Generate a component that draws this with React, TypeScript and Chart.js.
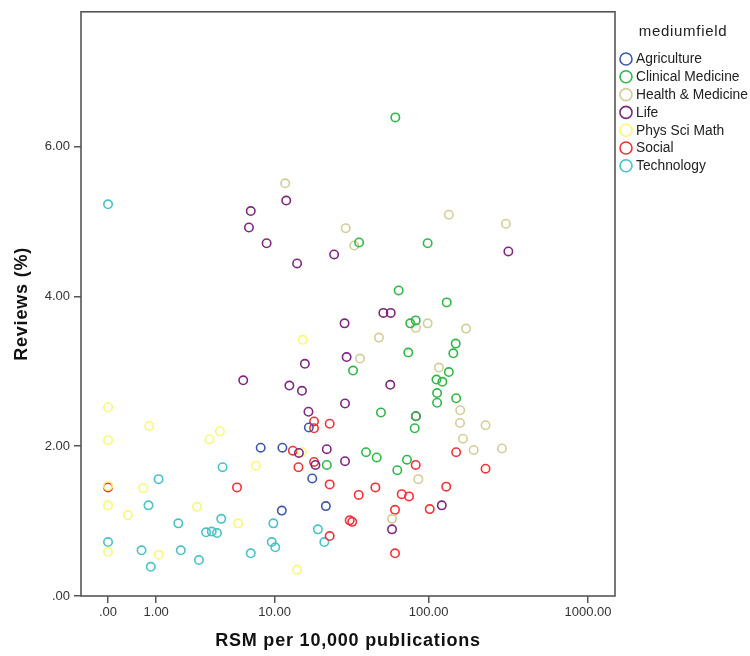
import React, { useEffect, useRef } from "react";
import { Chart, registerables } from "chart.js";
Chart.register(...registerables);

const categories = ["Agriculture", "Clinical Medicine", "Health & Medicine", "Life", "Phys Sci Math", "Social", "Technology"];
const colors = ["#3e58ac", "#2eb848", "#d3ce97", "#7c287d", "#fbf873", "#ef3338", "#48c2c5"];
const legendTitle = "mediumfield";
const xTitle = "RSM per 10,000 publications";
const yTitle = "Reviews (%)";
const xTickValues = [0, 1, 10, 100, 1000];
const xTickLabels = [".00", "1.00", "10.00", "100.00", "1000.00"];
const yTickValues = [0, 2, 4, 6];
const yTickLabels = [".00", "2.00", "4.00", "6.00"];

const agricultureX = [8.0, 11.3, 17.0, 17.9, 11.2, 22.0];
const agricultureY = [1.98, 1.98, 2.25, 1.57, 1.14, 1.20];

const clinicalX = [61.5, 36.1, 98.5, 64.6, 130, 76.5, 82.8, 148, 143, 74.3, 33.0, 134, 112, 122, 113, 113, 149, 49.8, 83, 81.6, 40.0, 46.8, 72.9, 63.3, 22.3];
const clinicalY = [6.39, 4.72, 4.71, 4.08, 3.92, 3.64, 3.68, 3.37, 3.24, 3.25, 3.01, 2.99, 2.89, 2.86, 2.71, 2.58, 2.64, 2.45, 2.40, 2.24, 1.92, 1.85, 1.82, 1.68, 1.75];

const healthX = [11.8, 134, 306, 29.6, 33.6, 83, 98.5, 172, 48.4, 36.6, 116, 158, 157.5, 228, 164.5, 192, 289, 86, 58.6];
const healthY = [5.51, 5.09, 4.97, 4.91, 4.68, 3.58, 3.64, 3.57, 3.45, 3.17, 3.05, 2.48, 2.31, 2.28, 2.10, 1.95, 1.97, 1.56, 1.03];

const lifeX = [12.0, 6.8, 6.6, 8.8, 14.2, 24.9, 29.1, 16.0, 30.0, 6.0, 12.6, 15.3, 29.3, 16.9, 14.6, 22.3, 18.8, 29.3, 317, 51.6, 57.5, 57.1, 83, 121, 58.6];
const lifeY = [5.28, 5.14, 4.92, 4.71, 4.44, 4.56, 3.64, 3.10, 3.19, 2.88, 2.81, 2.74, 2.57, 2.46, 1.91, 1.96, 1.75, 1.80, 4.60, 3.78, 3.78, 2.82, 2.40, 1.21, 0.89];

const physX = [15.5, 0, 0.81, 0, 4.0, 3.3, 15.3, 7.4, 0, 0.66, 0, 2.6, 0.33, 5.5, 0, 1.08, 14.2];
const physY = [3.42, 2.52, 2.27, 2.08, 2.20, 2.09, 1.92, 1.74, 1.47, 1.44, 1.21, 1.19, 1.08, 0.97, 0.59, 0.55, 0.35];

const socialX = [18.4, 23.3, 18.4, 13.3, 14.5, 18.4, 5.4, 0, 23.3, 23.3, 149, 228, 82.8, 129, 45.9, 35.9, 67.5, 75.1, 101.5, 61.2, 31.4, 32.6, 61.2];
const socialY = [2.33, 2.30, 2.24, 1.94, 1.72, 1.79, 1.45, 1.45, 1.49, 0.80, 1.92, 1.70, 1.75, 1.46, 1.45, 1.35, 1.36, 1.33, 1.16, 1.15, 1.01, 0.99, 0.57];

const techX = [0, 4.2, 1.07, 0.79, 1.75, 4.1, 9.8, 3.1, 3.45, 3.8, 19.5, 21.5, 0, 0.62, 1.85, 0.85, 2.7, 6.8, 9.55, 10.1];
const techY = [5.23, 1.72, 1.56, 1.21, 0.97, 1.03, 0.97, 0.85, 0.86, 0.84, 0.89, 0.72, 0.72, 0.61, 0.61, 0.39, 0.48, 0.57, 0.72, 0.65];

const seriesX = [agricultureX, clinicalX, healthX, lifeX, physX, socialX, techX];
const seriesY = [agricultureY, clinicalY, healthY, lifeY, physY, socialY, techY];

const tf = (v: number) => Math.log10(v + 1);
const FONT = "'Liberation Sans', Arial, sans-serif";

export default function App() {
  const ref = useRef<HTMLCanvasElement>(null);
  useEffect(() => {
    const canvas = ref.current!;
    const datasets = categories.map((c, i) => ({
      label: c,
      data: seriesX[i].map((x, j) => ({ x: tf(x), y: seriesY[i][j] })),
      borderColor: colors[i],
      backgroundColor: "rgba(0,0,0,0)",
      pointRadius: 4.2,
      pointBorderWidth: 1.6,
      pointHoverRadius: 4.2,
    }));

    const overlay = {
      id: "overlay",
      afterDraw(chart: any) {
        const ctx = chart.ctx;
        const a = chart.chartArea;
        ctx.save();
        ctx.strokeStyle = "#555";
        ctx.lineWidth = 1.6;
        ctx.strokeRect(a.left, a.top, a.right - a.left, a.bottom - a.top);
        // axis titles
        ctx.fillStyle = "#111";
        ctx.font = `bold 18px ${FONT}`;
        ctx.textAlign = "center";
        ctx.textBaseline = "middle";
        try { (ctx as any).letterSpacing = "0.8px"; } catch (e) {}
        ctx.fillText(xTitle, (a.left + a.right) / 2, 641);
        ctx.save();
        ctx.translate(22, (a.top + a.bottom) / 2);
        ctx.rotate(-Math.PI / 2);
        ctx.fillText(yTitle, 0, 0);
        ctx.restore();
        // legend
        ctx.fillStyle = "#222";
        ctx.font = `15px ${FONT}`;
        try { (ctx as any).letterSpacing = "0.7px"; } catch (e) {}
        ctx.textAlign = "center";
        ctx.fillText(legendTitle, 683, 32);
        try { (ctx as any).letterSpacing = "0px"; } catch (e) {}
        ctx.textAlign = "left";
        ctx.font = `13.8px ${FONT}`;
        categories.forEach((c, i) => {
          const y = 59 + i * 17.8;
          ctx.beginPath();
          ctx.arc(626, y, 6, 0, Math.PI * 2);
          ctx.strokeStyle = colors[i];
          ctx.lineWidth = 1.6;
          ctx.stroke();
          ctx.fillStyle = "#222";
          ctx.fillText(c, 636, y + 0.5);
        });
        ctx.restore();
      },
    };

    const chart = new Chart(canvas, {
      type: "scatter",
      data: { datasets },
      options: {
        animation: false,
        responsive: false,
        events: [],
        layout: { padding: { top: 11, right: 135, left: 0, bottom: 0 } },
        plugins: { legend: { display: false }, tooltip: { enabled: false } },
        scales: {
          x: {
            type: "linear",
            min: -0.169,
            max: 3.169,
            afterFit(scale: any) { scale.height = 60; },
            afterBuildTicks(scale: any) { scale.ticks = xTickValues.map((v) => ({ value: tf(v) })); },
            grid: { display: true, drawOnChartArea: false, drawTicks: true, tickLength: 7, color: "#555", lineWidth: 1.5 },
            border: { display: false },
            ticks: {
              autoSkip: false,
              maxRotation: 0,
              padding: 2,
              color: "#333",
              font: { family: FONT, size: 13 },
              callback: (_v: any, i: number) => xTickLabels[i],
            },
          },
          y: {
            type: "linear",
            min: 0,
            max: 7.8,
            afterFit(scale: any) { scale.width = 81; },
            afterBuildTicks(scale: any) { scale.ticks = yTickValues.map((v) => ({ value: v })); },
            grid: { display: true, drawOnChartArea: false, drawTicks: true, tickLength: 7, color: "#555", lineWidth: 1.5 },
            border: { display: false },
            ticks: {
              autoSkip: false,
              padding: 4,
              color: "#333",
              font: { family: FONT, size: 13 },
              callback: (_v: any, i: number) => yTickLabels[i],
            },
          },
        },
      },
      plugins: [overlay],
    } as any);
    return () => chart.destroy();
  }, []);
  return (
    <div style={{ position: "fixed", left: 0, top: 0, width: 750, height: 656, background: "#fff" }}>
      <canvas ref={ref} width={750} height={656} style={{ display: "block", width: 750, height: 656 }} />
    </div>
  );
}
